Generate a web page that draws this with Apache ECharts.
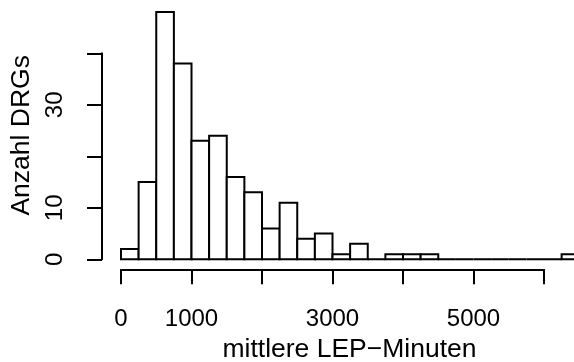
<!DOCTYPE html>
<html>
<head>
<meta charset="utf-8">
<script src="https://cdn.jsdelivr.net/npm/echarts@6/dist/echarts.min.js"></script>
<style>
  html, body { margin: 0; padding: 0; background: #fff; }
  #chart { width: 574px; height: 362px; }
</style>
</head>
<body>
<div id="chart"></div>
<script>
// Histogramm: mittlere LEP-Minuten je DRG, Klassenbreite 250
var binStarts = [0, 250, 500, 750, 1000, 1250, 1500, 1750, 2000, 2250, 2500, 2750, 3000,
  3250, 3500, 3750, 4000, 4250, 4500, 4750, 5000, 5250, 5500, 5750, 6000, 6250];
var binEnds = [250, 500, 750, 1000, 1250, 1500, 1750, 2000, 2250, 2500, 2750, 3000, 3250,
  3500, 3750, 4000, 4250, 4500, 4750, 5000, 5250, 5500, 5750, 6000, 6250, 6500];
var counts = [2, 15, 48, 38, 23, 24, 16, 13, 6, 11, 4, 5, 1,
  3, 0, 1, 1, 1, 0, 0, 0, 0, 0, 0, 0, 1];

// nur diese Beschriftungen zeigt R (Rest wegen Überlappung weggelassen)
var xLabels = [0, 1000, 3000, 5000];
var yLabels = [0, 10, 30];

var font = "'Liberation Sans', Arial, Helvetica, sans-serif";

var data = binStarts.map(function (s, i) {
  return [s, binEnds[i], counts[i]];
});

var chart = echarts.init(document.getElementById('chart'));

chart.setOption({
  animation: false,
  backgroundColor: '#fff',
  grid: { left: 121, width: 423, top: 53.3, bottom: 102.7, outerBoundsMode: 'none', containLabel: false },
  xAxis: {
    type: 'value',
    min: 0,
    max: 6000,
    interval: 1000,
    offset: 10,
    splitLine: { show: false },
    axisLine: { show: true, onZero: false, lineStyle: { color: '#000', width: 2 } },
    axisTick: { show: true, length: 15, lineStyle: { color: '#000', width: 2 } },
    axisLabel: {
      margin: 38,
      color: '#000',
      fontSize: 24,
      fontFamily: font,
      formatter: function (v) { return xLabels.indexOf(v) >= 0 ? String(v) : ''; }
    },
    name: 'mittlere LEP\u2212Minuten',
    nameLocation: 'middle',
    nameGap: 67,
    nameTextStyle: { color: '#000', fontSize: 26.5, fontFamily: font, padding: [0, 0, 0, 34] }
  },
  yAxis: {
    type: 'value',
    min: 0,
    max: 40,
    interval: 10,
    offset: 19,
    splitLine: { show: false },
    axisLine: { show: true, onZero: false, lineStyle: { color: '#000', width: 2 } },
    axisTick: { show: true, length: 15, lineStyle: { color: '#000', width: 2 } },
    axisLabel: {
      rotate: 90,
      margin: 35,
      color: '#000',
      fontSize: 24,
      fontFamily: font,
      formatter: function (v) { return yLabels.indexOf(v) >= 0 ? String(v) : ''; }
    },
    name: 'Anzahl DRGs',
    nameLocation: 'middle',
    nameRotate: 90,
    nameGap: 64,
    nameTextStyle: { color: '#000', fontSize: 26.5, fontFamily: font, padding: [0, 0, 0, 42] }
  },
  series: [{
    type: 'custom',
    clip: false,
    data: data,
    renderItem: function (params, api) {
      var top = api.coord([api.value(0), api.value(2)]);
      var bottom = api.coord([api.value(1), 0]);
      return {
        type: 'rect',
        shape: { x: top[0], y: top[1], width: bottom[0] - top[0], height: bottom[1] - top[1] },
        style: { fill: '#fff', stroke: '#000', lineWidth: 2 }
      };
    }
  }]
});
</script>
</body>
</html>
